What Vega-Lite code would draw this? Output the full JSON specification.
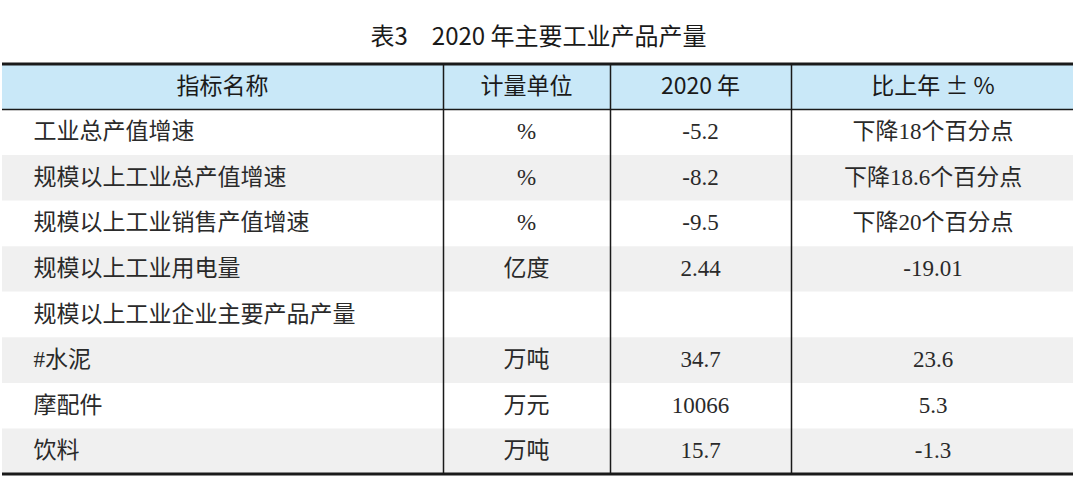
{
  "$schema": "https://vega.github.io/schema/vega-lite/v6.json",
  "padding": {"top": 25, "left": 0, "right": 0, "bottom": 0},
  "bounds": "flush",
  "spacing": 0,
  "background": "white",
  "title": {"text": "表3　2020 年主要工业产品产量", "fontSize": 24, "font": "Noto Sans CJK SC", "fontWeight": "normal", "anchor": "middle", "color": "#1a1a1a", "offset": 13},
  "config": {"view": {"stroke": null}, "concat": {"spacing": 0}},
  "datasets": {
    "table": [
      {"r": 0, "name": "指标名称", "unit": "计量单位", "v": "2020 年", "c": "比上年 ± %"},
      {"r": 1, "name": "工业总产值增速", "unit": "%", "v": "-5.2", "c": "下降18个百分点"},
      {"r": 2, "name": "规模以上工业总产值增速", "unit": "%", "v": "-8.2", "c": "下降18.6个百分点"},
      {"r": 3, "name": "规模以上工业销售产值增速", "unit": "%", "v": "-9.5", "c": "下降20个百分点"},
      {"r": 4, "name": "规模以上工业用电量", "unit": "亿度", "v": "2.44", "c": "-19.01"},
      {"r": 5, "name": "规模以上工业企业主要产品产量", "unit": "", "v": "", "c": ""},
      {"r": 6, "name": "#水泥", "unit": "万吨", "v": "34.7", "c": "23.6"},
      {"r": 7, "name": "摩配件", "unit": "万元", "v": "10066", "c": "5.3"},
      {"r": 8, "name": "饮料", "unit": "万吨", "v": "15.7", "c": "-1.3"}
    ]
  },
  "hconcat": [
    {
      "width": 441, "height": 410,
      "data": {"name": "table"},
      "layer": [
        {"mark": {"type": "rect", "strokeWidth": 0}, "encoding": {"y": {"field": "r", "type": "ordinal", "scale": {"paddingInner": 0, "paddingOuter": 0}, "axis": null}, "color": {"condition": [{"test": "datum.r==0", "value": "#c9e8f8"}, {"test": "datum.r%2==0", "value": "#f0f0f0"}], "value": "#ffffff"}}},
        {"transform": [{"filter": "datum.r==0"}], "mark": {"type": "text", "font": "Noto Sans CJK SC", "fontSize": 23, "fontWeight": "normal", "color": "#1a1a1a"}, "encoding": {"y": {"field": "r", "type": "ordinal", "axis": null}, "text": {"field": "name"}}},
        {"transform": [{"filter": "datum.r>0"}], "mark": {"type": "text", "font": "Liberation Serif, Noto Sans CJK SC", "fontSize": 23, "color": "#2a2a2a", "align": "left", "dx": -189}, "encoding": {"y": {"field": "r", "type": "ordinal", "axis": null}, "text": {"field": "name"}}},
        {"transform": [{"filter": "datum.r==0"}], "mark": {"type": "rule", "strokeWidth": 3, "color": "#1a1a1a"}, "encoding": {"y": {"field": "r", "type": "ordinal", "bandPosition": 0, "axis": null}}},
        {"transform": [{"filter": "datum.r==1"}], "mark": {"type": "rule", "strokeWidth": 1.5, "color": "#1a1a1a"}, "encoding": {"y": {"field": "r", "type": "ordinal", "bandPosition": 0, "axis": null}}},
        {"transform": [{"filter": "datum.r==8"}], "mark": {"type": "rule", "strokeWidth": 3, "color": "#1a1a1a"}, "encoding": {"y": {"field": "r", "type": "ordinal", "bandPosition": 1, "axis": null}}}
      ]
    },
    {
      "width": 167, "height": 410,
      "data": {"name": "table"},
      "layer": [
        {"mark": {"type": "rect", "strokeWidth": 0}, "encoding": {"y": {"field": "r", "type": "ordinal", "scale": {"paddingInner": 0, "paddingOuter": 0}, "axis": {"labels": false, "ticks": false, "title": null, "domainColor": "#1a1a1a", "domainWidth": 1.5, "zindex": 1}}, "color": {"condition": [{"test": "datum.r==0", "value": "#c9e8f8"}, {"test": "datum.r%2==0", "value": "#f0f0f0"}], "value": "#ffffff"}}},
        {"transform": [{"filter": "datum.r==0"}], "mark": {"type": "text", "font": "Noto Sans CJK SC", "fontSize": 23, "fontWeight": "normal", "color": "#1a1a1a"}, "encoding": {"y": {"field": "r", "type": "ordinal"}, "text": {"field": "unit"}}},
        {"transform": [{"filter": "datum.r>0"}], "mark": {"type": "text", "font": "Liberation Serif, Noto Sans CJK SC", "fontSize": 23, "color": "#2a2a2a"}, "encoding": {"y": {"field": "r", "type": "ordinal"}, "text": {"field": "unit"}}},
        {"transform": [{"filter": "datum.r==0"}], "mark": {"type": "rule", "strokeWidth": 3, "color": "#1a1a1a"}, "encoding": {"y": {"field": "r", "type": "ordinal", "bandPosition": 0}}},
        {"transform": [{"filter": "datum.r==1"}], "mark": {"type": "rule", "strokeWidth": 1.5, "color": "#1a1a1a"}, "encoding": {"y": {"field": "r", "type": "ordinal", "bandPosition": 0}}},
        {"transform": [{"filter": "datum.r==8"}], "mark": {"type": "rule", "strokeWidth": 3, "color": "#1a1a1a"}, "encoding": {"y": {"field": "r", "type": "ordinal", "bandPosition": 1}}}
      ]
    },
    {
      "width": 181, "height": 410,
      "data": {"name": "table"},
      "layer": [
        {"mark": {"type": "rect", "strokeWidth": 0}, "encoding": {"y": {"field": "r", "type": "ordinal", "scale": {"paddingInner": 0, "paddingOuter": 0}, "axis": {"labels": false, "ticks": false, "title": null, "domainColor": "#1a1a1a", "domainWidth": 1.5, "zindex": 1}}, "color": {"condition": [{"test": "datum.r==0", "value": "#c9e8f8"}, {"test": "datum.r%2==0", "value": "#f0f0f0"}], "value": "#ffffff"}}},
        {"transform": [{"filter": "datum.r==0"}], "mark": {"type": "text", "font": "Noto Sans CJK SC", "fontSize": 23, "fontWeight": "normal", "color": "#1a1a1a"}, "encoding": {"y": {"field": "r", "type": "ordinal"}, "text": {"field": "v"}}},
        {"transform": [{"filter": "datum.r>0"}], "mark": {"type": "text", "font": "Liberation Serif, Noto Sans CJK SC", "fontSize": 23, "color": "#2a2a2a"}, "encoding": {"y": {"field": "r", "type": "ordinal"}, "text": {"field": "v"}}},
        {"transform": [{"filter": "datum.r==0"}], "mark": {"type": "rule", "strokeWidth": 3, "color": "#1a1a1a"}, "encoding": {"y": {"field": "r", "type": "ordinal", "bandPosition": 0}}},
        {"transform": [{"filter": "datum.r==1"}], "mark": {"type": "rule", "strokeWidth": 1.5, "color": "#1a1a1a"}, "encoding": {"y": {"field": "r", "type": "ordinal", "bandPosition": 0}}},
        {"transform": [{"filter": "datum.r==8"}], "mark": {"type": "rule", "strokeWidth": 3, "color": "#1a1a1a"}, "encoding": {"y": {"field": "r", "type": "ordinal", "bandPosition": 1}}}
      ]
    },
    {
      "width": 284, "height": 410,
      "data": {"name": "table"},
      "layer": [
        {"mark": {"type": "rect", "strokeWidth": 0}, "encoding": {"y": {"field": "r", "type": "ordinal", "scale": {"paddingInner": 0, "paddingOuter": 0}, "axis": {"labels": false, "ticks": false, "title": null, "domainColor": "#1a1a1a", "domainWidth": 1.5, "zindex": 1}}, "color": {"condition": [{"test": "datum.r==0", "value": "#c9e8f8"}, {"test": "datum.r%2==0", "value": "#f0f0f0"}], "value": "#ffffff"}}},
        {"transform": [{"filter": "datum.r==0"}], "mark": {"type": "text", "font": "Noto Sans CJK SC", "fontSize": 23, "fontWeight": "normal", "color": "#1a1a1a"}, "encoding": {"y": {"field": "r", "type": "ordinal"}, "text": {"field": "c"}}},
        {"transform": [{"filter": "datum.r>0"}], "mark": {"type": "text", "font": "Liberation Serif, Noto Sans CJK SC", "fontSize": 23, "color": "#2a2a2a"}, "encoding": {"y": {"field": "r", "type": "ordinal"}, "text": {"field": "c"}}},
        {"transform": [{"filter": "datum.r==0"}], "mark": {"type": "rule", "strokeWidth": 3, "color": "#1a1a1a"}, "encoding": {"y": {"field": "r", "type": "ordinal", "bandPosition": 0}}},
        {"transform": [{"filter": "datum.r==1"}], "mark": {"type": "rule", "strokeWidth": 1.5, "color": "#1a1a1a"}, "encoding": {"y": {"field": "r", "type": "ordinal", "bandPosition": 0}}},
        {"transform": [{"filter": "datum.r==8"}], "mark": {"type": "rule", "strokeWidth": 3, "color": "#1a1a1a"}, "encoding": {"y": {"field": "r", "type": "ordinal", "bandPosition": 1}}}
      ]
    }
  ]
}
